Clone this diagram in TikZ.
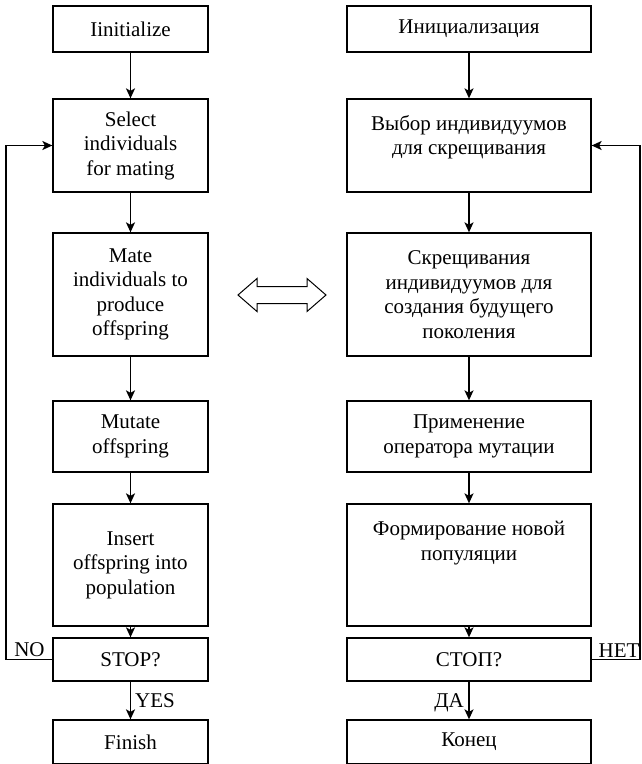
\documentclass[tikz,border=0pt]{standalone}
\usepackage{fontspec}
\setmainfont{Liberation Serif}
\usetikzlibrary{arrows.meta}
\tikzset{
  box/.style={draw, line width=1.3pt, rectangle, inner sep=0pt, align=center,
    font=\fontsize{21}{24.5}\selectfont},
  lbox/.style={box, minimum width=155pt},
  rbox/.style={box, minimum width=244pt},
  arr/.style={line width=1.5pt, -{Stealth[length=10pt,width=9pt,inset=2.5pt]}},
  lbl/.style={font=\fontsize{21}{24.5}\selectfont, inner sep=0pt, anchor=base}
}
\begin{document}
\begin{tikzpicture}[x=1pt,y=-1pt]
\useasboundingbox (0,0) rectangle (641,764);
% left column
\node[lbox, minimum height=46pt] (l1) at (130.5,29) {Iinitialize};
\node[lbox, minimum height=93pt] (l2) at (130.5,145.5) {Select\\individuals\\for mating};
\node[lbox, minimum height=123pt] (l3) at (130.5,294.5) {Mate\\individuals to\\produce\\offspring};
\node[lbox, minimum height=71pt] (l4) at (130.5,436.5) {Mutate\\offspring};
\node[lbox, minimum height=122pt] (l5) at (130.5,565) {Insert\\offspring into\\population};
\node[lbox, minimum height=43pt] (l6) at (130.5,659.5) {STOP?};
\node[lbox, minimum height=44pt] (l7) at (130.5,742) {Finish};
% right column
\node[rbox, minimum height=46pt] (r1) at (469,29) {Инициализация};
\node[rbox, minimum height=93pt] (r2) at (469,145.5) {Выбор индивидуумов\\для скрещивания\\[-3pt]};
\node[rbox, minimum height=123pt] (r3) at (469,294.5) {Скрещивания\\индивидуумов для\\создания будущего\\поколения};
\node[rbox, minimum height=71pt] (r4) at (469,436.5) {Применение\\оператора мутации};
\node[rbox, minimum height=122pt] (r5) at (469,565) {Формирование новой\\популяции\\[24pt]};
\node[rbox, minimum height=43pt] (r6) at (469,659.5) {СТОП?};
\node[rbox, minimum height=44pt] (r7) at (469,742) {Конец};
% arrows
\foreach \a/\b in {l1/l2,l2/l3,l3/l4,l4/l5,l5/l6,l6/l7,r1/r2,r2/r3,r3/r4,r4/r5,r5/r6,r6/r7}
  \draw[arr] (\a.south) -- (\b.north);
% loops
\coordinate (nl) at (6,659.5);
\coordinate (nr) at (640,659.5);
\draw[arr] (l6.west) -- (nl) |- (l2.west);
\draw[arr] (r6.east) -- (nr) |- (r2.east);
\node[lbl] (no) at (29.5,656) {NO};
\node[lbl] (net) at (619,657) {НЕТ};
\node[lbl, anchor=base west] (yes) at (135,707) {YES};
\node[lbl, anchor=base east] (da) at (464,707) {ДА};
% double arrow
\draw[line width=1pt, fill=white] (238,295) -- (257,278.5) -- (257,286.5) -- (307,286.5) -- (307,278.5) -- (326,295) -- (307,311.5) -- (307,303.5) -- (257,303.5) -- (257,311.5) -- cycle;
\end{tikzpicture}
\end{document}
